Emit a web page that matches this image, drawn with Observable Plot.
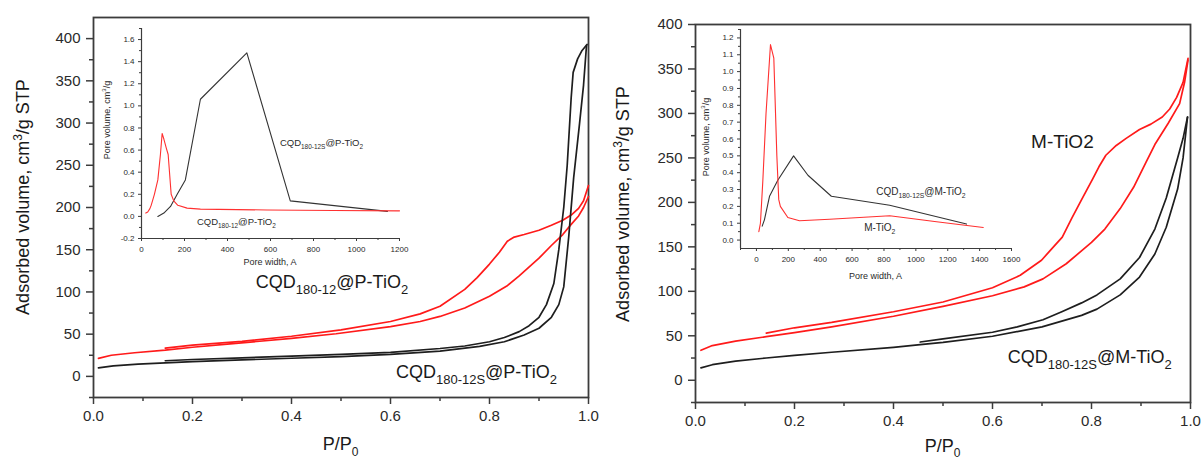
<!DOCTYPE html>
<html><head><meta charset="utf-8">
<script src="https://cdn.jsdelivr.net/npm/d3@7"></script>
<script src="https://cdn.jsdelivr.net/npm/@observablehq/plot@0.6"></script>
<style>
body{margin:0;background:#fff;}
#wrap{position:relative;width:1203px;height:460px;overflow:hidden;background:#fff;}
#wrap svg{position:absolute;}
</style></head><body><div id="wrap"></div>
<script>
// ---------- DATA ----------
// Left panel isotherms [P/P0, volume]
const leftRedAds = [[0.01,21.4],[0.036,25],[0.083,28],[0.145,31],[0.2,34.5],[0.276,38.5],[0.4,45],[0.49,50.5],[0.6,59],[0.66,65],[0.7,71],[0.75,81],[0.8,95],[0.835,107],[0.86,119],[0.9,140],[0.925,155],[0.948,168],[0.965,180],[0.98,190],[0.99,200],[1.0,213]];
const leftRedDes = [[1.0,226],[0.99,208],[0.98,199],[0.965,191],[0.948,185],[0.925,179],[0.9,173],[0.87,168],[0.85,165],[0.836,160],[0.82,147],[0.8,133],[0.775,117],[0.75,103],[0.7,83],[0.66,74],[0.6,65],[0.5,55],[0.4,47.5],[0.3,41.5],[0.2,37],[0.145,33.5]];
const leftBlackAds = [[0.01,10],[0.04,12.5],[0.09,14.5],[0.145,16],[0.2,17.5],[0.3,19.5],[0.4,21.5],[0.5,23.5],[0.6,26],[0.7,30],[0.78,35.5],[0.83,41],[0.87,49],[0.9,57],[0.925,70],[0.94,85],[0.95,106],[0.96,165],[0.97,235],[0.982,300],[0.99,345],[0.996,392]];
const leftBlackDes = [[0.997,393],[0.987,386],[0.978,376],[0.969,360],[0.965,330],[0.962,300],[0.957,250],[0.95,200],[0.94,150],[0.93,110],[0.915,85],[0.9,70],[0.88,60],[0.86,53],[0.83,46],[0.8,41],[0.75,36],[0.7,33],[0.6,28.5],[0.5,26],[0.4,24],[0.3,22],[0.2,20],[0.145,18.5]];
// Right panel isotherms
const rightRedAds = [[0.011,33.7],[0.034,39],[0.081,44],[0.143,49],[0.2,53.5],[0.275,60],[0.4,72],[0.5,83],[0.6,95],[0.664,105],[0.702,114],[0.749,131],[0.8,155],[0.827,170],[0.858,193],[0.885,217],[0.91,245],[0.928,265],[0.955,289],[0.978,311],[0.988,335],[0.995,360]];
const rightRedDes = [[0.995,362],[0.985,335],[0.972,318],[0.958,305],[0.943,296],[0.92,288],[0.897,282],[0.87,272],[0.85,264],[0.829,253],[0.815,240],[0.803,227],[0.78,203],[0.76,182],[0.741,161],[0.72,148],[0.699,135],[0.656,118],[0.6,104],[0.5,88],[0.4,77],[0.275,65],[0.2,59],[0.143,53]];
const rightBlackAds = [[0.011,14],[0.034,17.5],[0.081,21.5],[0.143,25],[0.2,28],[0.275,31.5],[0.4,37],[0.454,40],[0.5,42.5],[0.6,49.5],[0.7,60],[0.78,73],[0.811,80],[0.858,96],[0.897,116],[0.928,142],[0.951,172],[0.974,215],[0.985,250],[0.994,296]];
const rightBlackDes = [[0.994,296],[0.985,272],[0.974,250],[0.951,205],[0.928,170],[0.897,138],[0.858,114],[0.811,96],[0.78,87],[0.74,77],[0.702,68],[0.65,60],[0.6,54],[0.5,46.5],[0.454,43]];
// Insets: pore size distributions [pore width A, pore volume]
const leftInsetRed = [[20,0.03],[29,0.04],[39,0.07],[45,0.1],[60,0.2],[76,0.33],[88,0.56],[96,0.75],[104,0.7],[115,0.62],[124,0.56],[138,0.2],[150,0.14],[169,0.1],[212,0.075],[274,0.066],[584,0.058],[893,0.054],[1200,0.05]];
const leftInsetBlack = [[76,0.0],[104,0.03],[135,0.09],[166,0.2],[204,0.33],[274,1.06],[490,1.48],[692,0.14],[1144,0.045]];
const rightInsetRed = [[15,0.05],[25,0.1],[40,0.35],[60,0.75],[88,1.16],[109,1.08],[128,0.5],[140,0.24],[150,0.2],[197,0.134],[270,0.115],[459,0.124],[836,0.144],[1130,0.109],[1423,0.075]];
const rightInsetBlack = [[36,0.083],[50,0.12],[82,0.26],[134,0.355],[233,0.5],[323,0.385],[470,0.26],[836,0.207],[1318,0.095]];

// Tick values
const mainXTicks = [0,0.2,0.4,0.6,0.8,1.0];
const mainXMinor = [0.1,0.3,0.5,0.7,0.9];
const mainYTicks = [0,50,100,150,200,250,300,350,400];
const mainYMinorLeft = [-25,25,75,125,175,225,275,325,375];
const mainYMinorRight = [-25,25,75,125,175,225,275,325,375];
const liXTicks = [0,200,400,600,800,1000,1200];
const liXMinor = [100,300,500,700,900,1100];
const liYTicks = [-0.2,0,0.2,0.4,0.6,0.8,1.0,1.2,1.4,1.6];
const liYMinor = [-0.1,0.1,0.3,0.5,0.7,0.9,1.1,1.3,1.5,1.7];
const riXTicks = [0,200,400,600,800,1000,1200,1400,1600];
const riXMinor = [-100,100,300,500,700,900,1100,1300,1500];
const riYTicks = [0,0.1,0.2,0.3,0.4,0.5,0.6,0.7,0.8,0.9,1.0,1.1,1.2];
const riYMinor = [0.05,0.15,0.25,0.35,0.45,0.55,0.65,0.75,0.85,0.95,1.05,1.15,1.25];

// Texts
const yTitle = [["Adsorbed volume, cm",""],["3","sup"],["/g STP",""]];
const xTitle = [["P/P",""],["0","sub"]];
const insetYTitle = [["Pore volume, cm",""],["3","sup"],["/g",""]];
const insetXTitle = [["Pore width, A",""]];
const lblLeftRed = [["CQD",""],["180-12","sub"],["@P-TiO",""],["2","sub"]];
const lblLeftBlack = [["CQD",""],["180-12S","sub"],["@P-TiO",""],["2","sub"]];
const lblRightRed = [["M-TiO2",""]];
const lblRightBlack = [["CQD",""],["180-12S","sub"],["@M-TiO",""],["2","sub"]];
const lblRIBlack = [["CQD",""],["180-12S","sub"],["@M-TiO",""],["2","sub"]];
const lblRIRed = [["M-TiO",""],["2","sub"]];

// ---------- DRAWING ----------
const FONT = '"Liberation Sans", Arial, Helvetica, sans-serif';
const AX = "#3c3c3c";
const RED = "#ff1a1a";
const BLK = "#1e1e1e";
const wrap = document.getElementById("wrap");
const fx = d => d[0], fy = d => d[1];
const f1 = d => d.toFixed(1);

function addText(svg, x, y, parts, o) {
  const ns = "http://www.w3.org/2000/svg";
  const t = document.createElementNS(ns, "text");
  t.setAttribute("font-family", FONT);
  t.setAttribute("font-size", o.size);
  t.setAttribute("fill", o.fill || "#1a1a1a");
  t.setAttribute("text-anchor", o.anchor || "start");
  if (o.rotate) t.setAttribute("transform", `translate(${x},${y}) rotate(-90)`);
  else { t.setAttribute("x", x); t.setAttribute("y", y); }
  let shift = 0;
  for (const [s, kind] of parts) {
    const ts = document.createElementNS(ns, "tspan");
    const target = kind === "sub" ? o.sub : kind === "sup" ? -o.sup : 0;
    ts.setAttribute("dy", target - shift);
    shift = target;
    if (kind) ts.setAttribute("font-size", o.small);
    ts.textContent = s;
    t.appendChild(ts);
  }
  svg.appendChild(t);
}

function place(svg, left, top) {
  svg.style.left = left + "px";
  svg.style.top = top + "px";
  wrap.appendChild(svg);
}

function mainPanel(cfg) {
  const p = Plot.plot({
    width: cfg.width, height: 460,
    marginLeft: cfg.ml, marginRight: cfg.mr, marginTop: cfg.mt, marginBottom: cfg.mb,
    x: {domain: [0, 1]},
    y: {domain: cfg.yDomain},
    style: {background: "transparent", fontFamily: FONT, fontSize: "15px", color: "#2a2a2a", overflow: "visible"},
    marks: [
      Plot.axisX({ticks: mainXTicks, tickFormat: f1, tickSize: 7, tickPadding: 6, label: null, strokeWidth: 1.5, stroke: AX, fill: "#2a2a2a"}),
      Plot.axisX({ticks: mainXMinor, tickFormat: () => "", tickSize: 4, label: null, strokeWidth: 1.5, stroke: AX}),
      Plot.axisY({ticks: mainYTicks, tickFormat: d => String(d), tickSize: 7, tickPadding: 6, label: null, strokeWidth: 1.5, stroke: AX, fill: "#2a2a2a"}),
      Plot.axisY({ticks: cfg.yMinor, tickFormat: () => "", tickSize: 4, label: null, strokeWidth: 1.5, stroke: AX}),
      Plot.frame({stroke: AX, strokeWidth: 1.8}),
      ...cfg.series.map(s => Plot.line(s.data, {x: fx, y: fy, stroke: s.color, strokeWidth: 1.7}))
    ]
  });
  place(p, cfg.left, 0);
  const sx = p.scale("x"), sy = p.scale("y");
  const cx = (sx.apply(0) + sx.apply(1)) / 2;
  addText(p, cx, cfg.xTitleY, xTitle, {size: 18, small: 12, sub: cfg.xSub, anchor: "middle"});
  addText(p, cfg.yTitleX, cfg.yTitleCY, yTitle, {size: 18, small: 12, sup: 7, anchor: "middle", rotate: true});
  for (const a of cfg.labels) {
    addText(p, sx.apply(a.x), sy.apply(a.y), a.parts, {size: a.size || 18, small: 13, sub: 6});
  }
  return p;
}

function insetPanel(cfg) {
  const p = Plot.plot({
    width: cfg.width, height: cfg.height,
    marginLeft: cfg.ml, marginRight: cfg.mr, marginTop: cfg.mt, marginBottom: cfg.mb,
    x: {domain: cfg.xDomain},
    y: {domain: cfg.yDomain},
    style: {background: "transparent", fontFamily: FONT, fontSize: "8px", color: "#2a2a2a", overflow: "visible"},
    marks: [
      Plot.ruleX([cfg.xDomain[0]], {stroke: AX, strokeWidth: 1.2}),
      Plot.ruleY([cfg.yDomain[0]], {stroke: AX, strokeWidth: 1.2}),
      Plot.axisX({ticks: cfg.xTicks, tickFormat: d => String(d), tickSize: 3, tickPadding: 5, label: null, stroke: AX, fill: "#2a2a2a"}),
      Plot.axisX({ticks: cfg.xMinor, tickFormat: () => "", tickSize: 2, label: null, stroke: AX}),
      Plot.axisY({ticks: cfg.yTicks, tickFormat: f1, tickSize: 3, tickPadding: 4, label: null, stroke: AX, fill: "#2a2a2a"}),
      Plot.axisY({ticks: cfg.yMinor, tickFormat: () => "", tickSize: 2, label: null, stroke: AX}),
      ...cfg.series.map(s => Plot.line(s.data, {x: fx, y: fy, stroke: s.color, strokeWidth: 1.1}))
    ]
  });
  place(p, cfg.left, cfg.top);
  const sx = p.scale("x"), sy = p.scale("y");
  const cx = (sx.apply(cfg.xDomain[0]) + sx.apply(cfg.xDomain[1])) / 2;
  addText(p, cx, cfg.xTitleY, insetXTitle, {size: 9, anchor: "middle", fill: "#2a2a2a"});
  addText(p, cfg.yTitleX, cfg.yTitleCY, insetYTitle, {size: 9, small: 6, sup: 4, anchor: "middle", rotate: true, fill: "#2a2a2a"});
  for (const a of cfg.labels) {
    addText(p, sx.apply(a.x), sy.apply(a.y), a.parts, {size: a.size, small: a.size * 0.68, sub: 3, fill: "#2a2a2a"});
  }
  return p;
}

// Left main
mainPanel({
  left: 0, width: 600, ml: 93, mr: 12, mt: 17, mb: 63, yDomain: [-25, 425], yMinor: mainYMinorLeft,
  series: [
    {data: leftRedAds, color: RED}, {data: leftRedDes, color: RED},
    {data: leftBlackAds, color: BLK}, {data: leftBlackDes, color: BLK}
  ],
  xTitleY: 450, xSub: 6, yTitleX: 29, yTitleCY: 197,
  labels: [
    {x: 0.329, y: 104.5, parts: lblLeftRed},
    {x: 0.612, y: -2.4, parts: lblLeftBlack}
  ]
});

// Right main
mainPanel({
  left: 600, width: 603, ml: 95, mr: 13, mt: 24, mb: 58, yDomain: [-25, 400], yMinor: mainYMinorRight,
  series: [
    {data: rightRedAds, color: RED}, {data: rightRedDes, color: RED},
    {data: rightBlackAds, color: BLK}, {data: rightBlackDes, color: BLK}
  ],
  xTitleY: 452, xSub: 5, yTitleX: 29, yTitleCY: 204,
  labels: [
    {x: 0.679, y: 260.6, parts: lblRightRed, size: 19},
    {x: 0.632, y: 18.4, parts: lblRightBlack}
  ]
});

// Left inset
insetPanel({
  left: 95, top: 18, width: 320, height: 255, ml: 46, mr: 16, mt: 10, mb: 35,
  xDomain: [0, 1200], yDomain: [-0.2, 1.7],
  xTicks: liXTicks, xMinor: liXMinor, yTicks: liYTicks, yMinor: liYMinor,
  series: [{data: leftInsetBlack, color: "#333"}, {data: leftInsetRed, color: "#ff3030"}],
  xTitleY: 247, yTitleX: 15, yTitleCY: 102,
  labels: [
    {x: 646, y: 0.636, parts: lblLeftBlack, size: 9.5},
    {x: 260, y: -0.082, parts: lblLeftRed, size: 9.5}
  ]
});

// Right inset
insetPanel({
  left: 698, top: 25, width: 330, height: 265, ml: 42, mr: 17, mt: 4, mb: 42,
  xDomain: [-100, 1600], yDomain: [-0.05, 1.25],
  xTicks: riXTicks, xMinor: riXMinor, yTicks: riYTicks, yMinor: riYMinor,
  series: [{data: rightInsetBlack, color: "#333"}, {data: rightInsetRed, color: "#ff3030"}],
  xTitleY: 254, yTitleX: 11, yTitleCY: 112,
  labels: [
    {x: 755, y: 0.266, parts: lblRIBlack, size: 10},
    {x: 679, y: 0.053, parts: lblRIRed, size: 10}
  ]
});
</script></body></html>
